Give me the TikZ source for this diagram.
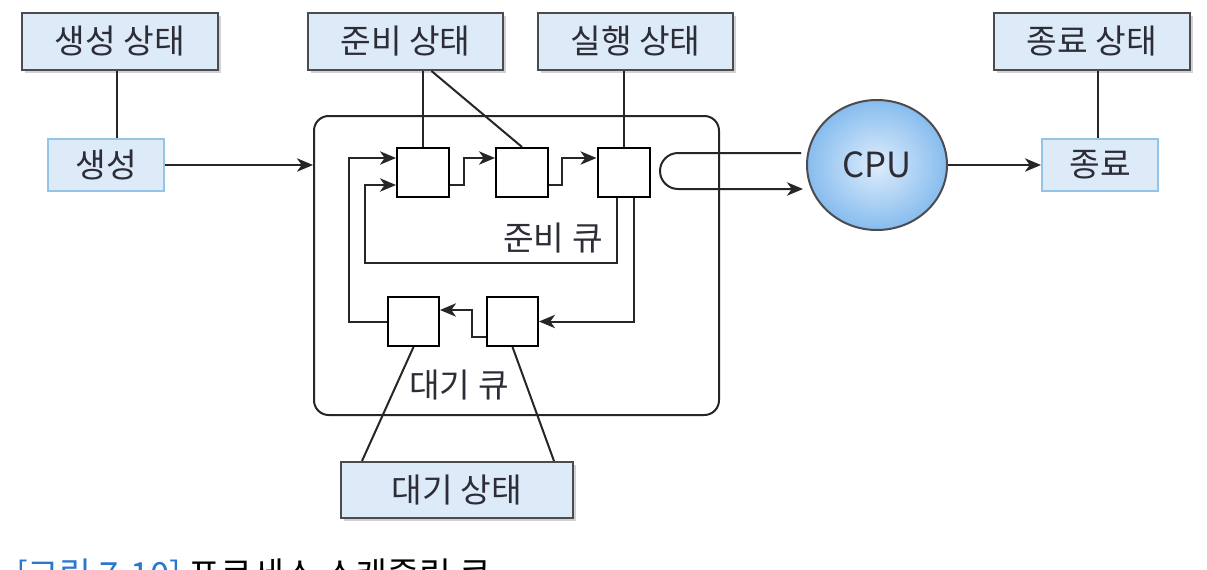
\documentclass[tikz,border=0pt]{standalone}
\usepackage{fontspec}
\setmainfont{Noto Sans CJK KR}
\usetikzlibrary{arrows.meta,calc,shadows,shapes.geometric}
\definecolor{boxfill}{RGB}{221,234,248}
\definecolor{boxline}{RGB}{75,75,80}
\definecolor{lightline}{RGB}{150,195,232}
\definecolor{txt}{RGB}{45,45,55}
\definecolor{capblue}{RGB}{40,120,205}
\definecolor{cpuin}{RGB}{222,237,252}
\definecolor{cpuout}{RGB}{135,188,238}
\tikzset{
  lbl/.style={font=\fontsize{25}{29}\selectfont, text=txt},
  statebox/.style={lbl, draw=boxline, line width=1.5pt, fill=boxfill, inner sep=0pt,
    minimum width=146.5pt, minimum height=42.75pt,
    drop shadow={shadow xshift=2.2pt, shadow yshift=-2.2pt, opacity=0.35, fill=gray}},
  lightbox/.style={lbl, draw=lightline, line width=1.5pt, fill=boxfill, inner sep=0pt,
    minimum width=87pt, minimum height=39pt},
  qbox/.style={draw=black, line width=1.5pt, fill=white, inner sep=0pt,
    minimum width=39pt, minimum height=36.75pt},
  conn/.style={line width=1.5pt, draw=black!85},
  arr/.style={conn, -{Stealth[length=12pt,width=10pt,inset=3.5pt]}},
}
\begin{document}
\begin{tikzpicture}[x=0.75pt,y=-0.75pt]
\useasboundingbox (0,0) rectangle (1207,569);
\clip (0,0) rectangle (1207,569);
\fill[white] (0,0) rectangle (1207,569);

% outer rounded frame
\node[draw=black!85, line width=1.5pt, rounded corners=11pt, minimum width=303.75pt,
  minimum height=224.25pt, inner sep=0pt] (frame) at (516.5,265.5) {};

% state boxes
\node[statebox] (s1) at (120,41.5) {생성 상태};
\node[statebox] (s2) at (405.5,41.5) {준비 상태};
\node[statebox] (s3) at (635.5,41.5) {실행 상태};
\node[statebox] (s4) at (1092,41.5) {종료 상태};
\node[statebox, minimum width=174pt, minimum height=42pt] (s5) at (457,490) {대기 상태};

% light boxes
\node[lightbox] (gen) at (106,165) {생성};
\node[lightbox] (fin) at (1100,165) {종료};

% CPU
\node[ellipse, draw=boxline, line width=1.5pt, inner color=cpuin, outer color=cpuout,
  minimum width=105pt, minimum height=97.5pt, lbl, font=\fontsize{26}{30}\selectfont] (cpu) at (877,165) {CPU};

% ready queue boxes
\node[qbox] (r1) at (423,172.5) {};
\node[qbox] (r2) at (522,172.5) {};
\node[qbox] (r3) at (623.5,172.5) {};
% wait queue boxes
\node[qbox, minimum width=38.25pt] (w1) at (413.5,321.5) {};
\node[qbox, minimum width=38.25pt] (w2) at (512.5,321.5) {};

% queue labels
\node[lbl] (rq) at (553,238) {준비 큐};
\node[lbl] (wq) at (459,385) {대기 큐};

% state links
\coordinate (g1) at ($(gen.north)+(11,0)$);
\draw[conn] (g1) -- (g1 |- s1.south);
\draw[conn] (r1.north) -- (r1.north |- s2.south);
\draw[conn] ($(s2.south)+(26,0)$) -- (r2.north);
\draw[conn] (r3.north) -- (r3.north |- s3.south);
\draw[conn] (fin.north) ++(-2,0) coordinate (f1) -- (f1 |- s4.south);
\draw[conn] (w1.south) -- ($(s5.north west)+(22,0)$);
\draw[conn] (w2.south) -- ($(s5.north east)+(-20,0)$);

% generate -> queue
\draw[arr] (gen.east) -- (gen.east -| frame.west);

% ready queue arrows
\draw[arr] ($(r1.east)+(0,12.5)$) -- ++(14,0) |- ($(r2.west)+(0,-14.5)$);
\draw[arr] ($(r2.east)+(0,12.5)$) -- ++(13,0) |- ($(r3.west)+(0,-14.5)$);

% ready loop back
\coordinate (lp1) at (365,263);
\draw[arr] ($(r3.south)+(-7,0)$) |- (lp1) |- ($(r1.west)+(0,12.5)$);

% to wait queue
\draw[arr] ($(r3.south)+(10,0)$) |- (w2.east);
\draw[arr] ($(w2.west)+(0,15.5)$) -- ++(-14,0) |- ($(w1.east)+(0,-11.5)$);

% wait back to ready
\coordinate (lp2) at (349,158);
\draw[arr] (w1.west) -| (lp2) -- ($(r1.west)+(0,-14.5)$);

% CPU U-turn
\coordinate (u1) at ($(cpu.west)+(-5,-12)$);
\coordinate (u2) at ($(cpu.west)+(-3,24)$);
\draw[arr] (u1) -- (678,153) arc (270:90:18) -- (u2);

% CPU -> end
\draw[arr] (cpu.east) -- (fin.west);

% caption (cut off at the bottom edge, as in the reference)
\node[anchor=base west, inner sep=0pt, font=\fontsize{26}{30}\selectfont] (cap) at (16,587)
  {\textcolor{capblue}{[그림 7-10]} 프로세스 스케줄링 큐};
\end{tikzpicture}
\end{document}
